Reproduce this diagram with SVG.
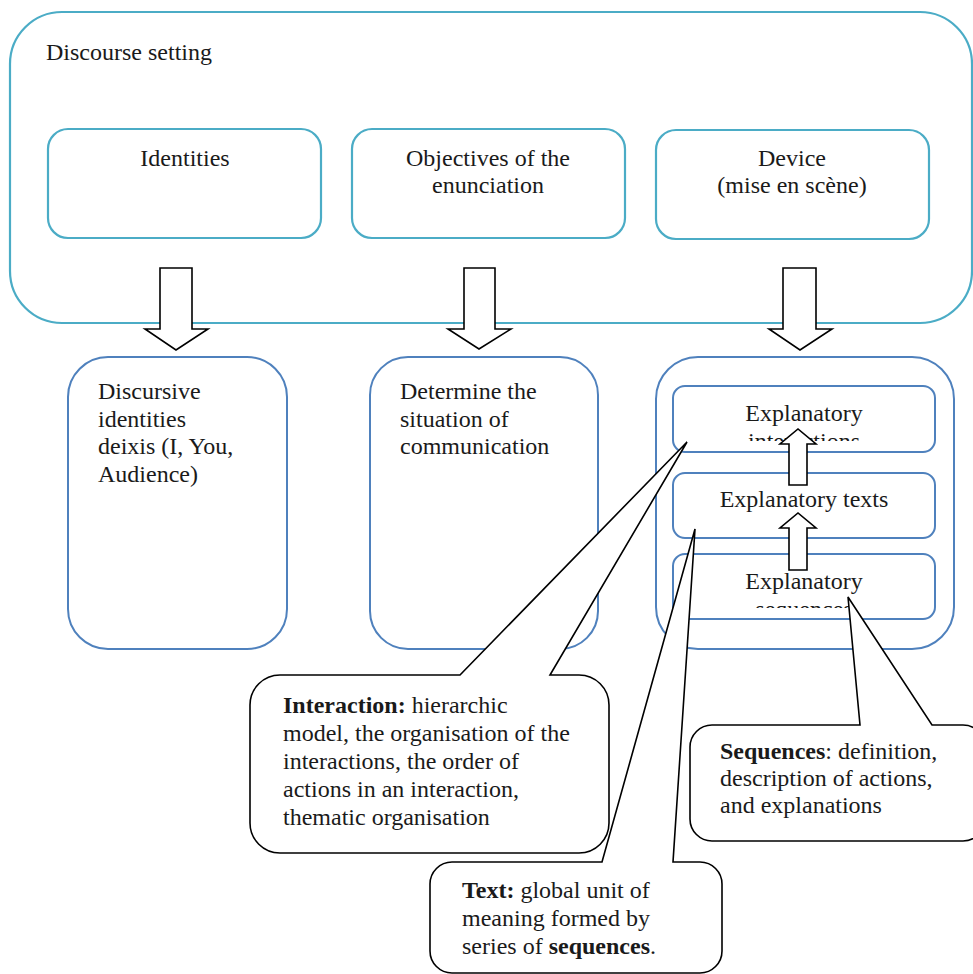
<svg xmlns="http://www.w3.org/2000/svg" width="973" height="974" viewBox="0 0 973 974">
  <style>
    text { font-family: "Liberation Serif", "Times New Roman", serif; font-size: 24px; fill: #1a1a1a; }
    .mid { text-anchor: middle; }
    .b { font-weight: bold; }
    .teal { fill: #ffffff; stroke: #4bacc6; stroke-width: 2.2; }
    .blue { fill: #ffffff; stroke: #4f81bd; stroke-width: 2; }
    .arrow { fill: #ffffff; stroke: #000000; stroke-width: 1.6; stroke-linejoin: miter; }
    .callout { fill: #ffffff; stroke: #000000; stroke-width: 1.6; stroke-linejoin: miter; }
  </style>
  <defs>
    <clipPath id="clipInteractions"><rect x="673" y="386" width="262" height="55"/></clipPath>
    <clipPath id="clipSequences"><rect x="673" y="554" width="262" height="54"/></clipPath>
  </defs>
  <rect width="973" height="974" fill="#ffffff"/>

  <!-- outer frame -->
  <g id="discourse-setting">
    <rect class="teal" x="10" y="12" width="962" height="311" rx="52" ry="52"/>
    <text x="46" y="60">Discourse setting</text>
  </g>

  <g id="identities">
    <rect class="teal" x="48" y="129" width="273" height="109" rx="20" ry="20"/>
    <text class="mid" x="185" y="166">Identities</text>
  </g>
  <g id="objectives">
    <rect class="teal" x="352" y="129" width="273" height="109" rx="20" ry="20"/>
    <text class="mid" x="488" y="166">Objectives of the</text>
    <text class="mid" x="488" y="193">enunciation</text>
  </g>
  <g id="device">
    <rect class="teal" x="656" y="130" width="273" height="109" rx="20" ry="20"/>
    <text class="mid" x="792" y="166">Device</text>
    <text class="mid" x="792" y="193">(mise en scène)</text>
  </g>

  <!-- lower row -->
  <g id="discursive-identities">
    <rect class="blue" x="68" y="357" width="219" height="292" rx="40" ry="40"/>
    <text x="98" y="399">Discursive</text>
    <text x="98" y="426.5">identities</text>
    <text x="98" y="454">deixis (I, You,</text>
    <text x="98" y="481.5">Audience)</text>
  </g>
  <g id="situation">
    <rect class="blue" x="370" y="357" width="228" height="292" rx="38" ry="38"/>
    <text x="400" y="399">Determine the</text>
    <text x="400" y="426.5">situation of</text>
    <text x="400" y="454">communication</text>
  </g>
  <g id="device-detail">
    <rect class="blue" x="656" y="357" width="298" height="292" rx="42" ry="42"/>
  </g>
  <g id="explanatory-interactions">
    <rect class="blue" x="673" y="386" width="262" height="66" rx="12" ry="12"/>
    <g clip-path="url(#clipInteractions)">
      <text class="mid" x="804" y="421">Explanatory</text>
      <text class="mid" x="804" y="449">interactions</text>
    </g>
  </g>
  <g id="explanatory-texts">
    <rect class="blue" x="673" y="473" width="262" height="65" rx="12" ry="12"/>
    <text class="mid" x="804" y="507">Explanatory texts</text>
  </g>
  <g id="explanatory-sequences">
    <rect class="blue" x="673" y="554" width="262" height="65" rx="12" ry="12"/>
    <g clip-path="url(#clipSequences)">
      <text class="mid" x="804" y="589">Explanatory</text>
      <text class="mid" x="804" y="617">sequences</text>
    </g>
  </g>

  <!-- block arrows -->
  <g id="connectors">
    <path class="arrow" d="M160,268 H192 V329 H208 L176,350 L145,329 H160 Z"/>
    <path class="arrow" d="M464,268 H495 V329 H511 L479,349 L448,329 H464 Z"/>
    <path class="arrow" d="M783,268 H816 V329 H832 L800,350 L769,329 H783 Z"/>
    <path class="arrow" d="M789,485 V444 H780 L798,429 L816,444 H807 V485 Z"/>
    <path class="arrow" d="M789,570 V528 H780 L798,513 L816,528 H807 V570 Z"/>
  </g>

  <!-- callouts -->
  <g id="interaction-callout">
    <path class="callout" d="M280,675 H460 L687,442 L550,675 H579 A30,30 0 0 1 609,705 V823 A30,30 0 0 1 579,853 H280 A30,30 0 0 1 250,823 V705 A30,30 0 0 1 280,675 Z"/>
    <text x="283" y="713"><tspan class="b">Interaction:</tspan> hierarchic</text>
    <text x="283" y="741">model, the organisation of the</text>
    <text x="283" y="769">interactions, the order of</text>
    <text x="283" y="797">actions in an interaction,</text>
    <text x="283" y="825">thematic organisation</text>
  </g>
  <g id="text-callout">
    <path class="callout" d="M452,862 H602 L695,529 L673,862 H700 A22,22 0 0 1 722,884 V951 A22,22 0 0 1 700,973 H452 A22,22 0 0 1 430,951 V884 A22,22 0 0 1 452,862 Z"/>
    <text x="462" y="898"><tspan class="b">Text:</tspan> global unit of</text>
    <text x="462" y="926">meaning formed by</text>
    <text x="462" y="954">series of <tspan class="b">sequences</tspan>.</text>
  </g>
  <g id="sequences-callout">
    <path class="callout" d="M712,725 H860 L848,597 L932,725 H963 A22,22 0 0 1 985,747 V819 A22,22 0 0 1 963,841 H712 A22,22 0 0 1 690,819 V747 A22,22 0 0 1 712,725 Z"/>
    <text x="720" y="759"><tspan class="b">Sequences</tspan>: definition,</text>
    <text x="720" y="786">description of actions,</text>
    <text x="720" y="813">and explanations</text>
  </g>
</svg>
